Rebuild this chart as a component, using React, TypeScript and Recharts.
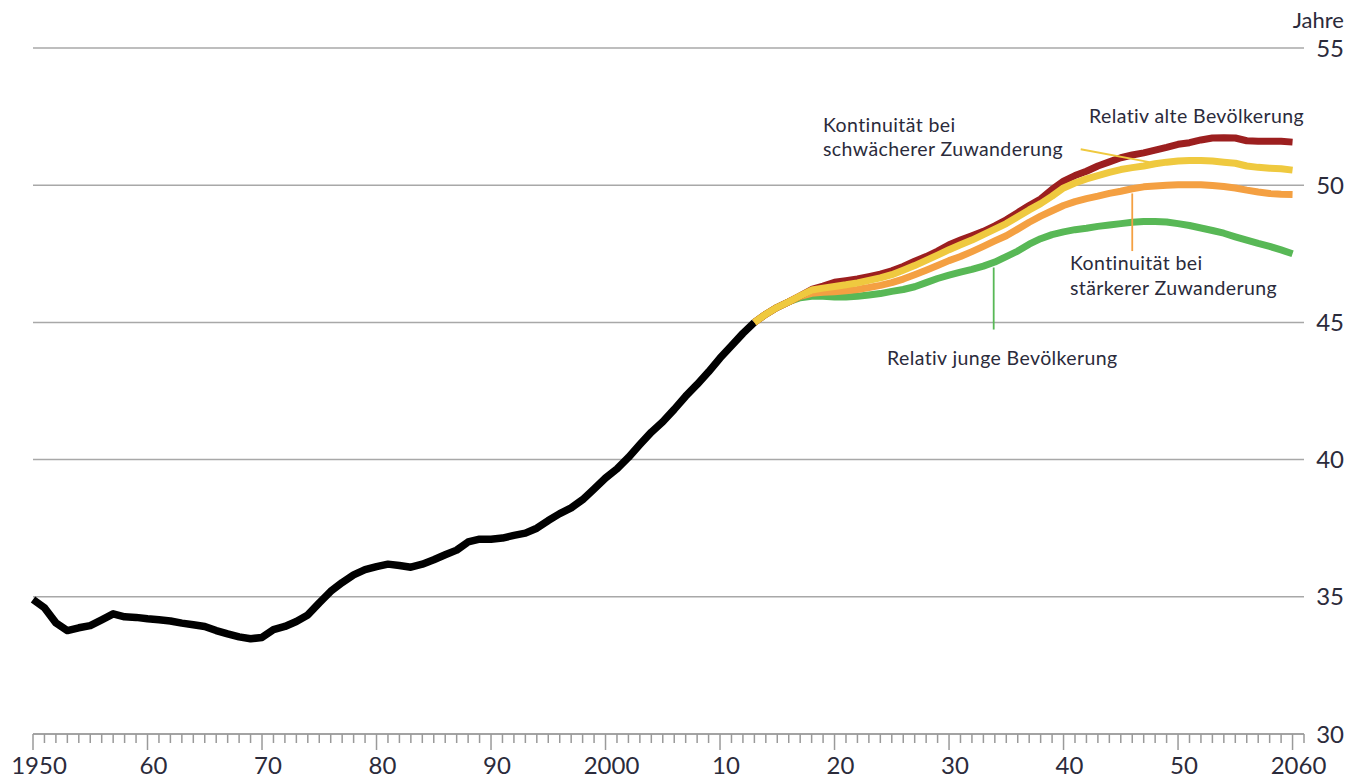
import React from "react";
import { LineChart, Line, XAxis, YAxis, CartesianGrid, ReferenceLine } from "recharts";

// Historical median age (Jahre)
const histYears = [
  1950, 1951, 1952, 1953, 1954, 1955, 1956, 1957, 1958, 1959,
  1960, 1961, 1962, 1963, 1964, 1965, 1966, 1967, 1968, 1969,
  1970, 1971, 1972, 1973, 1974, 1975, 1976, 1977, 1978, 1979,
  1980, 1981, 1982, 1983, 1984, 1985, 1986, 1987, 1988, 1989,
  1990, 1991, 1992, 1993, 1994, 1995, 1996, 1997, 1998, 1999,
  2000, 2001, 2002, 2003, 2004, 2005, 2006, 2007, 2008, 2009,
  2010, 2011, 2012, 2013,
];
const histValues = [
  34.9, 34.6, 34.05, 33.77, 33.87, 33.95, 34.16, 34.38, 34.27, 34.25,
  34.2, 34.16, 34.12, 34.04, 33.98, 33.92, 33.77, 33.65, 33.54, 33.47,
  33.52, 33.8, 33.92, 34.1, 34.34, 34.78, 35.2, 35.52, 35.8, 35.99,
  36.1, 36.19, 36.14, 36.08, 36.19, 36.35, 36.53, 36.7, 37.0, 37.1,
  37.1, 37.14, 37.24, 37.32, 37.5, 37.78, 38.03, 38.24, 38.54, 38.93,
  39.33, 39.66, 40.08, 40.55, 41.0, 41.38, 41.83, 42.31, 42.74, 43.2,
  43.7, 44.15, 44.6, 45.0,
];

// Projection years 2013..2060
const projYears = [
  2013, 2014, 2015, 2016, 2017, 2018, 2019, 2020, 2021, 2022,
  2023, 2024, 2025, 2026, 2027, 2028, 2029, 2030, 2031, 2032,
  2033, 2034, 2035, 2036, 2037, 2038, 2039, 2040, 2041, 2042,
  2043, 2044, 2045, 2046, 2047, 2048, 2049, 2050, 2051, 2052,
  2053, 2054, 2055, 2056, 2057, 2058, 2059, 2060,
];
// Relativ alte Bevölkerung
const altValues = [
  45.0, 45.3, 45.55, 45.75, 45.97, 46.2, 46.32, 46.46, 46.52, 46.58,
  46.67, 46.76, 46.88, 47.04, 47.23, 47.4, 47.6, 47.83, 48.0, 48.16,
  48.32, 48.52, 48.74, 49.0, 49.26, 49.5, 49.85, 50.15, 50.35, 50.51,
  50.7, 50.85, 51.0, 51.1, 51.18, 51.28, 51.38, 51.49, 51.55, 51.65,
  51.72, 51.73, 51.72, 51.62, 51.6, 51.6, 51.6, 51.57,
];
// Kontinuität bei schwächerer Zuwanderung
const schwachValues = [
  45.0, 45.3, 45.55, 45.75, 45.97, 46.18, 46.25, 46.31, 46.37, 46.44,
  46.53, 46.62, 46.74, 46.9, 47.07, 47.26, 47.45, 47.65, 47.83, 48.0,
  48.2, 48.4, 48.6, 48.85, 49.1, 49.33, 49.6, 49.9, 50.08, 50.23,
  50.35, 50.47, 50.57, 50.64, 50.7, 50.78, 50.84, 50.88, 50.9, 50.9,
  50.88, 50.84, 50.8, 50.7, 50.65, 50.62, 50.6, 50.55,
];
// Kontinuität bei stärkerer Zuwanderung
const starkValues = [
  45.0, 45.3, 45.55, 45.75, 45.95, 46.06, 46.1, 46.12, 46.15, 46.2,
  46.27, 46.35, 46.45, 46.58, 46.74, 46.9, 47.07, 47.25, 47.4, 47.58,
  47.77, 47.97, 48.16, 48.4, 48.65, 48.87, 49.07, 49.26, 49.4, 49.51,
  49.6, 49.7, 49.78, 49.87, 49.94, 49.97, 50.0, 50.02, 50.02, 50.02,
  49.99, 49.95, 49.9, 49.82, 49.75, 49.7, 49.67, 49.66,
];
// Relativ junge Bevölkerung
const jungValues = [
  45.0, 45.3, 45.55, 45.75, 45.9, 45.95, 45.95, 45.93, 45.93, 45.95,
  46.0, 46.05, 46.13, 46.2, 46.3, 46.45, 46.6, 46.72, 46.83, 46.93,
  47.05, 47.2, 47.4, 47.6, 47.85, 48.05, 48.2, 48.3, 48.38, 48.43,
  48.5, 48.55, 48.6, 48.65, 48.68, 48.68, 48.66, 48.6, 48.53, 48.44,
  48.35, 48.25, 48.12, 48.0, 47.88, 47.77, 47.64, 47.5,
];

const xMajorTicks = [1950, 1960, 1970, 1980, 1990, 2000, 2010, 2020, 2030, 2040, 2050, 2060];
const xTickLabels = ["1950", "60", "70", "80", "90", "2000", "10", "20", "30", "40", "50", "2060"];
const yTicks = [30, 35, 40, 45, 50, 55];
const yUnit = "Jahre";

const histData = histYears.map((year, i) => ({ year, value: histValues[i] }));
const mk = (vals: number[]) => projYears.map((year, i) => ({ year, value: vals[i] }));
const altData = mk(altValues);
const schwachData = mk(schwachValues);
const starkData = mk(starkValues);
const jungData = mk(jungValues);

const allYearTicks: number[] = [];
for (let y = 1950; y <= 2061; y++) allYearTicks.push(y);

const FONT = "Lato, 'Open Sans', sans-serif";
const TEXT = "#2b2b3b";
const GRID = "#a8a8a8";

const XTick = (props: any) => {
  const { x, y, payload } = props;
  const yr = payload.value;
  const idx = xMajorTicks.indexOf(yr);
  const major = idx >= 0;
  return (
    <g>
      <line x1={x} x2={x} y1={y} y2={y + (major ? 16 : 9)} stroke="#9a9a9a" strokeWidth={1.5} />
      {major && (
        <text x={x + 6} y={y + 40} textAnchor="middle" fontFamily={FONT} fontSize={24} fill={TEXT}>
          {xTickLabels[idx]}
        </text>
      )}
    </g>
  );
};

const YTick = (props: any) => {
  const { x, y, payload } = props;
  return (
    <text x={x + 40} y={y + 8.5} textAnchor="end" fontFamily={FONT} fontSize={24} fill={TEXT}>
      {payload.value}
    </text>
  );
};

const C_ALT = "#9c1f1f";
const C_SCHWACH = "#efc93f";
const C_STARK = "#f4a042";
const C_JUNG = "#58b856";

const ANN = { fontSize: 19.5, letterSpacing: 0.4 };

export default function App() {
  return (
    <div style={{ position: "absolute", left: 0, top: 0, width: 1352, height: 780, background: "#fff" }}>
      <LineChart
        width={1352}
        height={780}
        margin={{ top: 48, right: 0, bottom: 0, left: 33 }}
      >
        <CartesianGrid horizontal vertical={false} stroke={GRID} strokeWidth={1.5} />
        <XAxis
          type="number"
          dataKey="year"
          domain={[1950, 2061]}
          ticks={allYearTicks}
          interval={0}
          height={46}
          tickSize={0}
          tickMargin={0}
          tick={<XTick />}
          axisLine={{ stroke: "#9a9a9a", strokeWidth: 1.5 }}
          allowDuplicatedCategory={false}
        />
        <YAxis
          orientation="right"
          type="number"
          domain={[30, 55]}
          ticks={yTicks}
          width={48}
          tickSize={0}
          tickMargin={0}
          axisLine={false}
          tickLine={false}
          tick={<YTick />}
        />
        <Line data={histData} dataKey="value" stroke="#000" strokeWidth={7.5} dot={false} isAnimationActive={false} strokeLinejoin="round" strokeLinecap="butt" />
        <Line data={jungData} dataKey="value" stroke={C_JUNG} strokeWidth={7} dot={false} isAnimationActive={false} strokeLinejoin="round" />
        <Line data={starkData} dataKey="value" stroke={C_STARK} strokeWidth={7} dot={false} isAnimationActive={false} strokeLinejoin="round" />
        <Line data={altData} dataKey="value" stroke={C_ALT} strokeWidth={7} dot={false} isAnimationActive={false} strokeLinejoin="round" />
        <Line data={schwachData} dataKey="value" stroke={C_SCHWACH} strokeWidth={7} dot={false} isAnimationActive={false} strokeLinejoin="round" />
        <ReferenceLine segment={[{ x: 2041.5, y: 51.31 }, { x: 2047.5, y: 50.84 }]} stroke={C_SCHWACH} strokeWidth={1.8} />
        <ReferenceLine segment={[{ x: 2046, y: 49.7 }, { x: 2046, y: 47.6 }]} stroke={C_STARK} strokeWidth={1.8} />
        <ReferenceLine segment={[{ x: 2033.9, y: 47.0 }, { x: 2033.9, y: 44.74 }]} stroke={C_JUNG} strokeWidth={1.8} />
      </LineChart>
      <svg width={1352} height={780} style={{ position: "absolute", left: 0, top: 0, pointerEvents: "none" }}>
        <g fontFamily={FONT} fill={TEXT}>
          <text x={1344} y={28} textAnchor="end" fontSize={22}>{yUnit}</text>
          <text x={1089} y={123} {...ANN}>Relativ alte Bevölkerung</text>
          <text x={823} y={132} {...ANN}>Kontinuität bei</text>
          <text x={823} y={156} {...ANN}>schwächerer Zuwanderung</text>
          <text x={1070} y={270} {...ANN}>Kontinuität bei</text>
          <text x={1070} y={295} {...ANN}>stärkerer Zuwanderung</text>
          <text x={887} y={365} {...ANN}>Relativ junge Bevölkerung</text>
        </g>
      </svg>
    </div>
  );
}
